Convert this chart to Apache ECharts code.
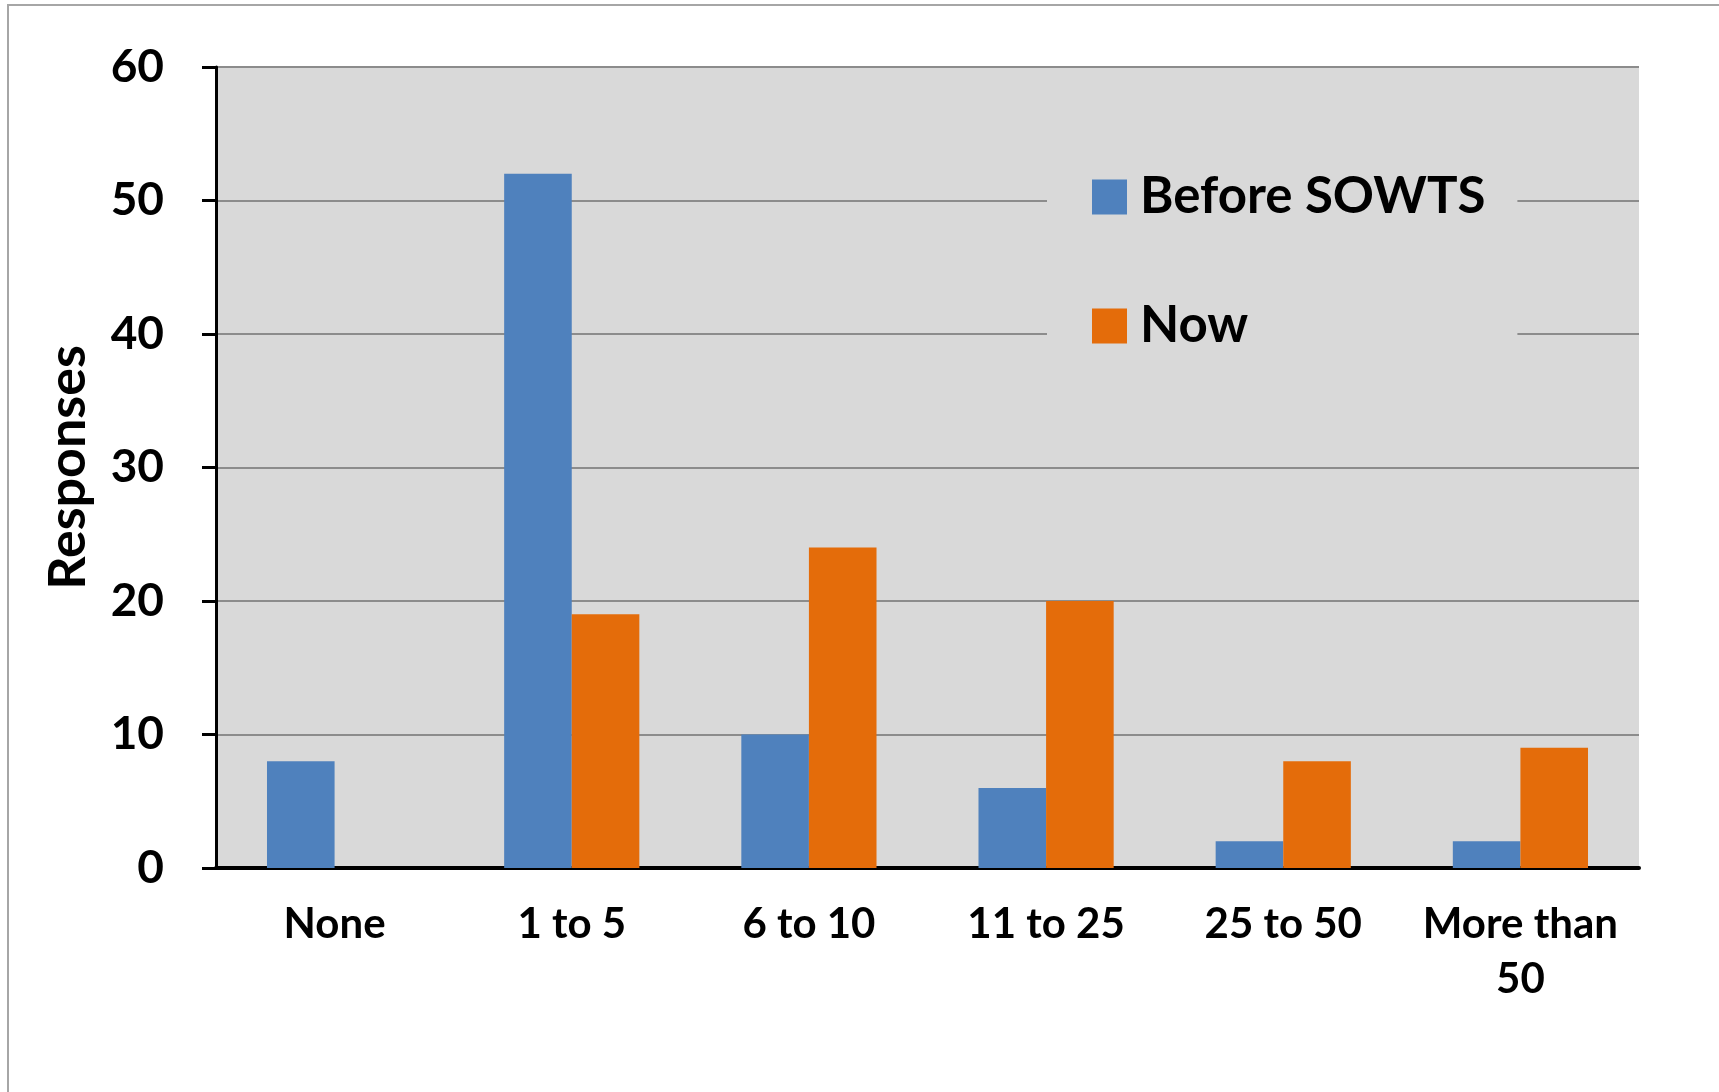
<!DOCTYPE html>
<html>
<head>
<meta charset="utf-8">
<title>Responses</title>
<script src="https://cdn.jsdelivr.net/npm/echarts@6/dist/echarts.min.js"></script>
<style>
  html, body { margin: 0; padding: 0; background: #fff; }
  #chart { width: 1719px; height: 1092px; }
</style>
</head>
<body>
<div id="chart"></div>
<script>
const categories = ['None', '1 to 5', '6 to 10', '11 to 25', '25 to 50', 'More than 50'];
const beforeValues = [8, 52, 10, 6, 2, 2];
const nowValues = [0, 19, 24, 20, 8, 9];
const seriesNames = ['Before SOWTS', 'Now'];

const FONT = 'Lato, "Open Sans", sans-serif';

function initChart() {
    const chart = echarts.init(document.getElementById('chart'));
    const option = {
        animation: false,
        textStyle: { fontFamily: FONT },
        // outer chart frame
        graphic: [{
            type: 'rect',
            shape: { x: 8, y: 5, width: 2000, height: 2000 },
            style: { fill: 'none', stroke: '#a6a6a6', lineWidth: 2 },
            silent: true
        }],
        grid: {
            left: 216, top: 67, right: 80, bottom: 224,
            show: true,
            backgroundColor: '#d9d9d9',
            borderWidth: 0
        },
        legend: {
            orient: 'vertical',
            left: 1047,
            top: 150,
            padding: [20, 32, 17, 45],
            backgroundColor: '#d9d9d9',
            itemWidth: 35,
            itemHeight: 35,
            itemGap: 75,
            icon: 'rect',
            textStyle: {
                fontFamily: FONT,
                fontWeight: 'bold',
                fontSize: 51,
                lineHeight: 54,
                color: '#000',
                padding: [0, 0, 0, 8]
            },
            data: seriesNames
        },
        xAxis: {
            type: 'category',
            data: categories,
            axisLine: { lineStyle: { color: '#000', width: 4 } },
            axisTick: { show: false },
            axisLabel: {
                interval: 0,
                margin: 29,
                color: '#000',
                fontWeight: 'bold',
                fontSize: 42,
                lineHeight: 55,
                formatter: v => v.replace('than ', 'than\n')
            }
        },
        yAxis: {
            type: 'value',
            min: 0,
            max: 60,
            interval: 10,
            name: 'Responses',
            nameLocation: 'middle',
            nameGap: 122,
            nameTextStyle: {
                fontFamily: FONT,
                fontWeight: 'bold',
                fontSize: 52,
                color: '#000'
            },
            axisLine: { show: true, lineStyle: { color: '#000', width: 3 } },
            axisTick: { show: true, length: 14, lineStyle: { color: '#000', width: 3 } },
            axisLabel: {
                margin: 52,
                color: '#000',
                fontWeight: 'bold',
                fontSize: 46
            },
            splitLine: { lineStyle: { color: '#8c8c8c', width: 2 } }
        },
        series: [{
            name: seriesNames[0],
            type: 'bar',
            data: beforeValues,
            barGap: '0%',
            barCategoryGap: '43%',
            itemStyle: { color: '#4f81bd' }
        }, {
            name: seriesNames[1],
            type: 'bar',
            data: nowValues,
            barGap: '0%',
            barCategoryGap: '43%',
            itemStyle: { color: '#e46c0a' }
        }]
    };
    chart.setOption(option);
}

document.addEventListener('DOMContentLoaded', initChart);
</script>
</body>
</html>
